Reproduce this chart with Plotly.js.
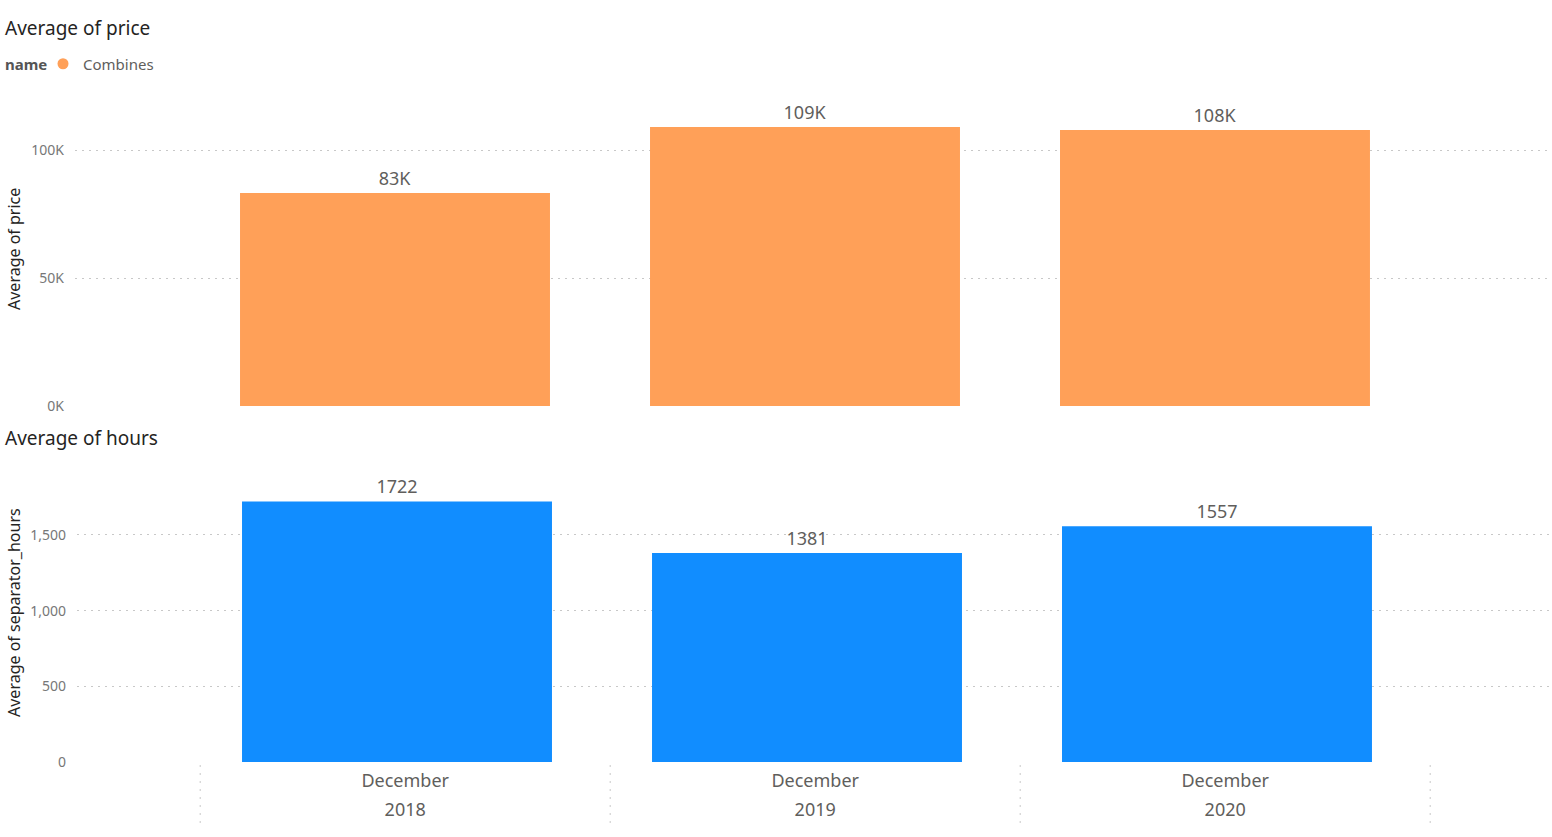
<!DOCTYPE html>
<html>
<head>
<meta charset="utf-8">
<script src="https://cdn.plot.ly/plotly-3.0.1.min.js"></script>
<style>html,body{margin:0;padding:0;background:#fff;}#chart{width:1552px;height:837px;}</style>
</head>
<body>
<div id="chart"></div>
<script>
// ---- data ----
const categories = ['December 2018', 'December 2019', 'December 2020'];
const monthLabels = ['December', 'December', 'December'];
const yearLabels = ['2018', '2019', '2020'];
const seriesName = 'Combines';
const priceValues = [83200, 109000, 107800];
const hoursValues = [1722, 1381, 1557];
const priceTickVals = [0, 50000, 100000];
const priceTickText = ['0K', '50K', '100K'];
const hoursTickVals = [0, 500, 1000, 1500];
const hoursTickText = ['0', '500', '1,000', '1,500'];

// ---- styling ----
const W = 1552, H = 837;
const FONT = 'Segoe UI, "Noto Sans", "Open Sans", sans-serif';
const ORANGE = '#FFA058';
const BLUE = '#118DFF';
const GRID = '#c8c8c8';
const px = v => v / W;
const py = v => 1 - v / H;

const xPos = categories.map((c, i) => i);
const labelPos = categories.map((c, i) => i + 0.02);
const xRange = [-0.7805, 2.8171];
const barWidth = 0.756;

const priceText = priceValues.map(v => Math.round(v / 1000) + 'K');
const hoursText = hoursValues.map(v => String(v));

const traces = [
  {
    type: 'bar', x: xPos, y: priceValues, xaxis: 'x', yaxis: 'y',
    marker: {color: ORANGE}, width: barWidth, name: seriesName, showlegend: false,
    text: priceText, textposition: 'outside', cliponaxis: false,
    textfont: {size: 18, color: '#605E5C', family: FONT}, hoverinfo: 'y'
  },
  {
    type: 'scatter', mode: 'markers', x: [null], y: [null], xaxis: 'x', yaxis: 'y',
    marker: {color: ORANGE, size: 11, symbol: 'circle'}, name: seriesName, showlegend: true
  },
  {
    type: 'bar', x: xPos, y: hoursValues, xaxis: 'x2', yaxis: 'y2',
    marker: {color: BLUE}, width: barWidth, name: 'Average of separator_hours', showlegend: false,
    text: hoursText, textposition: 'outside', cliponaxis: false,
    textfont: {size: 18, color: '#605E5C', family: FONT}, hoverinfo: 'y'
  },
  {
    // carrier for the year row of the category axis
    type: 'scatter', mode: 'markers', x: labelPos, y: [null, null, null],
    xaxis: 'x3', yaxis: 'y2', showlegend: false, hoverinfo: 'skip'
  }
];

const yCommon = {
  showgrid: true, gridcolor: GRID, griddash: '2px,5px', gridwidth: 1,
  zeroline: false, showline: false, ticks: '',
  tickfont: {size: 14, color: '#777777', family: FONT},
  ticklabelstandoff: 10, fixedrange: true
};

const xLabelCommon = {
  range: xRange, tickvals: labelPos, ticks: '',
  tickfont: {size: 18, color: '#605E5C', family: FONT},
  ticklabelstandoff: 6,
  showgrid: false, zeroline: false, showline: false, fixedrange: true
};

const layout = {
  width: W, height: H,
  margin: {l: 0, r: 0, t: 0, b: 0, pad: 0},
  paper_bgcolor: '#ffffff', plot_bgcolor: '#ffffff',
  font: {family: FONT, color: '#252423'},
  title: {
    text: 'Average of price', x: px(5), xanchor: 'left', xref: 'paper',
    y: py(28), yanchor: 'middle', yref: 'paper',
    font: {size: 19, color: '#252423', family: FONT}
  },
  showlegend: true,
  legend: {
    orientation: 'h', x: px(43), xanchor: 'left', y: py(64), yanchor: 'middle',
    font: {size: 15, color: '#605E5C', family: FONT},
    itemwidth: 30, bgcolor: 'rgba(0,0,0,0)', borderwidth: 0
  },
  xaxis: {
    domain: [px(75), px(1550)], range: xRange, anchor: 'y',
    showticklabels: false, showgrid: false, zeroline: false, showline: false, fixedrange: true
  },
  yaxis: Object.assign({}, yCommon, {
    domain: [py(406), py(98.8)], range: [0, 120000], anchor: 'x',
    tickvals: priceTickVals, ticktext: priceTickText
  }),
  xaxis2: Object.assign({}, xLabelCommon, {
    domain: [px(77), 1], anchor: 'y2', ticktext: monthLabels
  }),
  xaxis3: Object.assign({}, xLabelCommon, {
    overlaying: 'x2', anchor: 'free', position: py(791), ticktext: yearLabels
  }),
  yaxis2: Object.assign({}, yCommon, {
    domain: [py(762), py(459.3)], range: [0, 2000], anchor: 'x2',
    tickvals: hoursTickVals, ticktext: hoursTickText
  }),
  shapes: [-0.5, 0.5, 1.5, 2.5].map(b => ({
    type: 'line', xref: 'x2', yref: 'paper',
    x0: b + 0.02, x1: b + 0.02, y0: py(765), y1: py(827),
    line: {color: GRID, width: 1, dash: '2px,6px'}
  })),
  annotations: [
    {
      text: '<b>name</b>', xref: 'paper', yref: 'paper', x: px(3), y: py(64),
      xanchor: 'left', yanchor: 'middle', showarrow: false,
      font: {size: 15, color: '#555555', family: FONT}
    },
    {
      text: 'Average of hours', xref: 'paper', yref: 'paper', x: px(3), y: py(438),
      xanchor: 'left', yanchor: 'middle', showarrow: false,
      font: {size: 19, color: '#252423', family: FONT}
    },
    {
      text: 'Average of price', xref: 'paper', yref: 'paper', x: px(14), y: py(249),
      xanchor: 'center', yanchor: 'middle', textangle: -90, showarrow: false,
      font: {size: 16, color: '#252423', family: FONT}
    },
    {
      text: 'Average of separator_hours', xref: 'paper', yref: 'paper', x: px(14), y: py(613),
      xanchor: 'center', yanchor: 'middle', textangle: -90, showarrow: false,
      font: {size: 16, color: '#252423', family: FONT}
    }
  ],
  bargap: 0.2
};

Plotly.newPlot('chart', traces, layout, {displayModeBar: false, staticPlot: true});
</script>
</body>
</html>
